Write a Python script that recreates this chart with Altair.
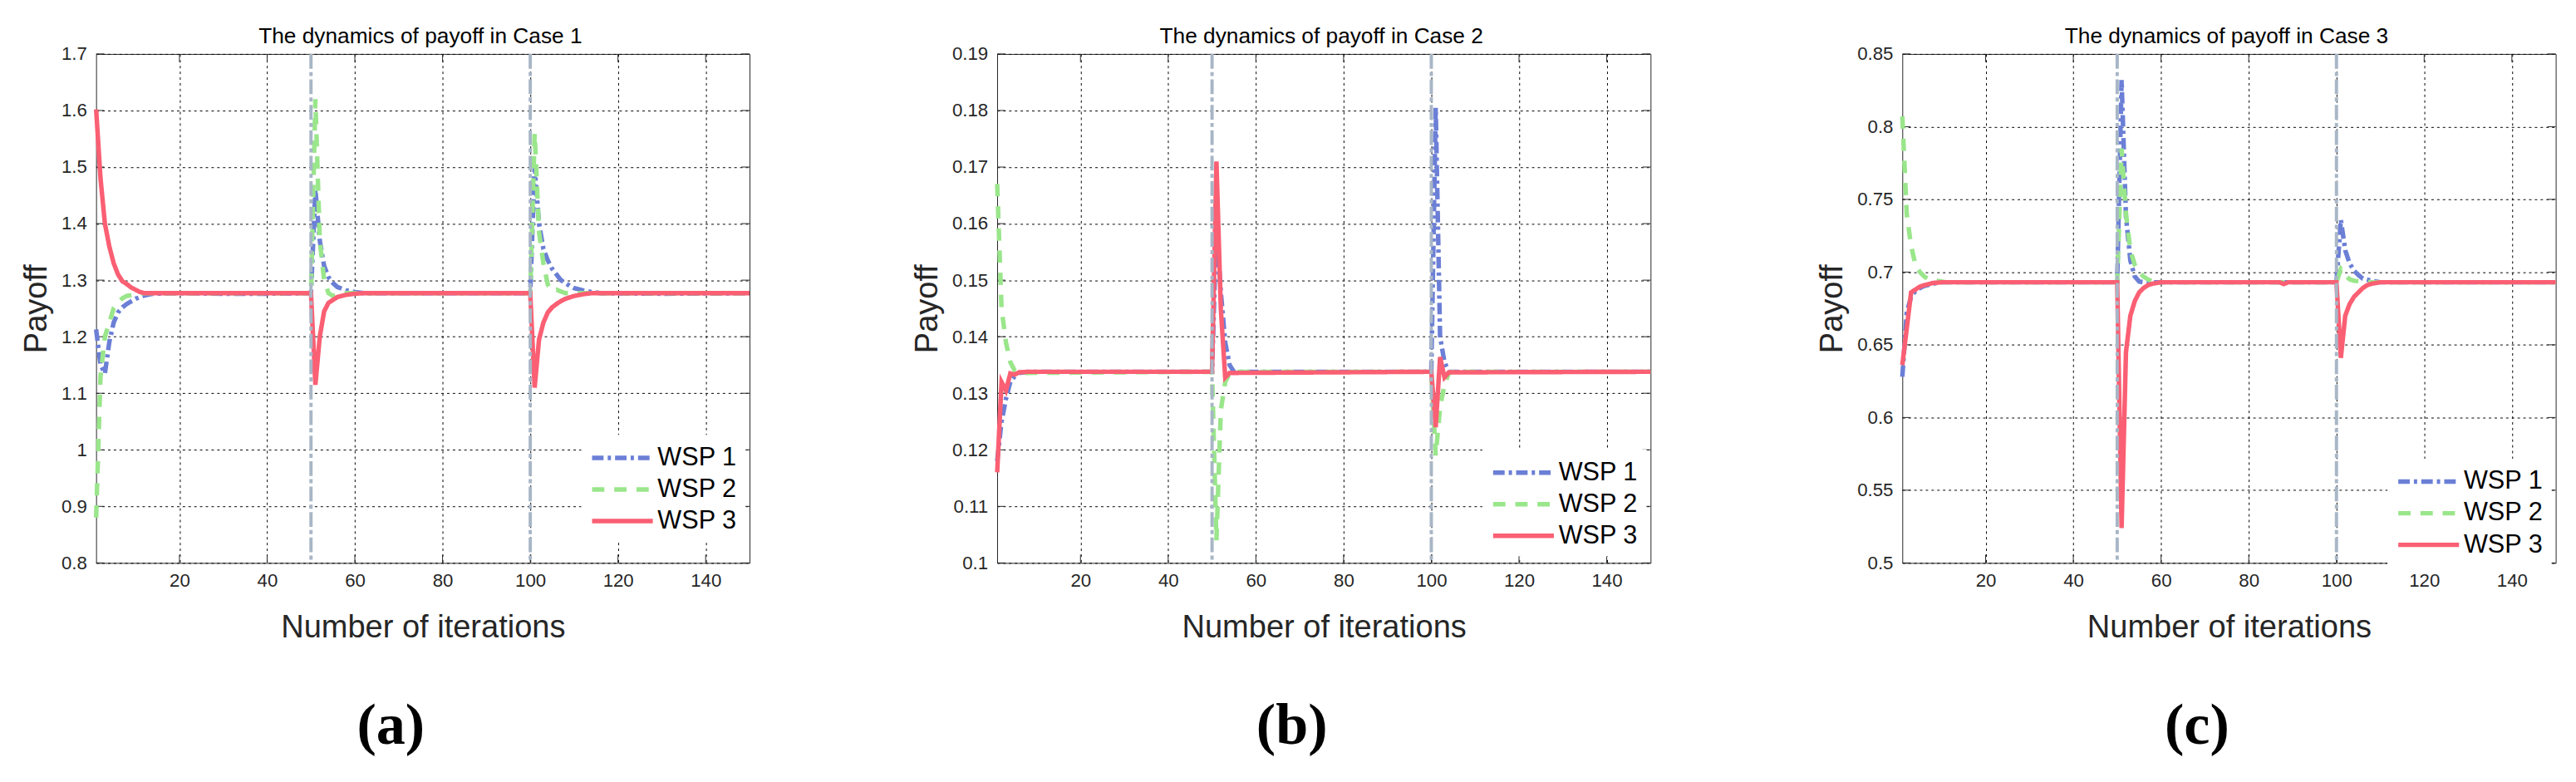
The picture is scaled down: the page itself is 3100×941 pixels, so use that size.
import altair as alt
import pandas as pd

# ---------------- data ----------------
SERIES = ["WSP 1", "WSP 2", "WSP 3"]
COLORS = ["#6b7fd6", "#9ae68b", "#fa5f73"]
DASHES = [[14, 5, 4, 5], [15, 12], [1, 0]]

TITLES = ["The dynamics of payoff in Case 1",
          "The dynamics of payoff in Case 2",
          "The dynamics of payoff in Case 3"]
PANEL_LABELS = ["(a)", "(b)", "(c)"]
X_TICKS = [20, 40, 60, 80, 100, 120, 140]
Y_TICKS_A = [0.8, 0.9, 1.0, 1.1, 1.2, 1.3, 1.4, 1.5, 1.6, 1.7]
Y_TICKS_B = [0.10, 0.11, 0.12, 0.13, 0.14, 0.15, 0.16, 0.17, 0.18, 0.19]
Y_TICKS_C = [0.5, 0.55, 0.6, 0.65, 0.7, 0.75, 0.8, 0.85]
SHOCKS = [50, 100]

# Case 1
a1_x = [1, 2, 3, 4, 5, 6, 7, 8, 10, 12, 14, 20, 30, 40, 50, 51, 52, 53, 54, 55, 56, 58, 60, 62, 80, 90,
        100, 101, 102, 103, 104, 105, 106, 107, 108, 109, 110, 112, 114, 116, 130, 150]
a1_y = [1.213, 1.15, 1.135, 1.19, 1.225, 1.243, 1.252, 1.258, 1.267, 1.273, 1.276, 1.277, 1.276, 1.276,
        1.277, 1.46, 1.37, 1.325, 1.305, 1.295, 1.288, 1.282, 1.279, 1.277, 1.277, 1.277,
        1.277, 1.50, 1.40, 1.355, 1.335, 1.32, 1.31, 1.30, 1.295, 1.29, 1.286, 1.282, 1.279, 1.277, 1.276, 1.277]
a2_x = [1, 2, 3, 4, 5, 6, 7, 8, 10, 12, 50, 51, 52, 53, 54, 55, 56, 58,
        100, 101, 102, 103, 104, 105, 106, 107, 108, 150]
a2_y = [0.88, 1.13, 1.20, 1.225, 1.25, 1.26, 1.268, 1.272, 1.275, 1.277, 1.277, 1.62, 1.37, 1.30, 1.277,
        1.272, 1.274, 1.277, 1.277, 1.56, 1.385, 1.33, 1.292, 1.281, 1.283, 1.28, 1.277, 1.277]
a3_x = [1, 2, 3, 4, 5, 6, 7, 8, 9, 10, 11, 12, 50, 51, 52, 53, 54, 55, 56, 58, 60, 62,
        100, 101, 102, 103, 104, 105, 106, 107, 108, 110, 112, 114, 150]
a3_y = [1.602, 1.48, 1.40, 1.36, 1.33, 1.31, 1.298, 1.293, 1.287, 1.283, 1.279, 1.277, 1.277, 1.115, 1.20,
        1.245, 1.26, 1.265, 1.27, 1.274, 1.276, 1.277, 1.277, 1.11, 1.195, 1.225, 1.243, 1.252, 1.258,
        1.263, 1.267, 1.272, 1.275, 1.277, 1.277]

# Case 2
b1_x = [1, 2, 3, 4, 5, 6, 8, 50, 51, 52, 53, 54, 55, 100, 101, 102, 103, 104, 150]
b1_y = [0.118, 0.125, 0.129, 0.132, 0.133, 0.1336, 0.1338, 0.1338, 0.160, 0.148, 0.139, 0.135, 0.1338,
        0.1338, 0.1805, 0.140, 0.1355, 0.1338, 0.1338]
b2_x = [1, 2, 3, 4, 5, 6, 50, 51, 52, 53, 54, 55, 100, 101, 102, 103, 104, 105, 150]
b2_y = [0.167, 0.145, 0.139, 0.1355, 0.134, 0.1336, 0.1338, 0.104, 0.127, 0.132, 0.1335, 0.1338,
        0.1338, 0.119, 0.1275, 0.1315, 0.1336, 0.1338, 0.1338]
b3_x = [1, 2, 3, 4, 5, 6, 8, 50, 51, 52, 53, 54, 100, 101, 102, 103, 104, 150]
b3_y = [0.116, 0.132, 0.1305, 0.1335, 0.1333, 0.1337, 0.1338, 0.1338, 0.171, 0.145, 0.1328, 0.1336,
        0.1338, 0.124, 0.1364, 0.1328, 0.1337, 0.1338]

# Case 3
c1_x = [1, 2, 3, 4, 5, 6, 8, 10, 50, 51, 52, 53, 54, 55, 56, 100, 101, 102, 103, 104, 105, 106, 108, 110, 150]
c1_y = [0.628, 0.672, 0.683, 0.687, 0.689, 0.6905, 0.692, 0.693, 0.693, 0.832, 0.738, 0.708, 0.697,
        0.6935, 0.693, 0.693, 0.736, 0.715, 0.706, 0.701, 0.698, 0.6955, 0.694, 0.693, 0.693]
c2_x = [1, 2, 3, 4, 5, 6, 7, 9, 11, 50, 51, 52, 53, 54, 55, 56, 57, 58, 60,
        100, 101, 102, 103, 104, 106, 108, 150]
c2_y = [0.807, 0.74, 0.718, 0.705, 0.70, 0.697, 0.695, 0.694, 0.693, 0.693, 0.785, 0.74, 0.715, 0.705,
        0.70, 0.697, 0.695, 0.6935, 0.693, 0.693, 0.702, 0.698, 0.695, 0.694, 0.6935, 0.693, 0.693]
c3_x = [1, 2, 3, 4, 5, 6, 8, 10, 50, 51, 52, 53, 54, 55, 56, 57, 58, 60, 87, 88, 89,
        100, 101, 102, 103, 104, 105, 106, 107, 108, 110, 150]
c3_y = [0.636, 0.661, 0.686, 0.688, 0.690, 0.691, 0.6925, 0.693, 0.693, 0.524, 0.645, 0.67, 0.68, 0.686,
        0.689, 0.691, 0.692, 0.693, 0.693, 0.6918, 0.693, 0.693, 0.641, 0.670, 0.678, 0.683, 0.686,
        0.689, 0.691, 0.692, 0.693, 0.693]

# ---------------- styling ----------------
W, H = 796, 620
AXC = "#262626"
FONT = "Liberation Sans"


def panel(xs_list, ys_list, yticks, title, label, legend_x, legend_y):
    rows = []
    for s, xs, ys in zip(SERIES, xs_list, ys_list):
        for x, y in zip(xs, ys):
            rows.append({"it": x, "val": y, "series": s})
    df = pd.DataFrame(rows)

    xscale = alt.Scale(domain=[1, 150], nice=False, zero=False)
    yscale = alt.Scale(domain=[yticks[0], yticks[-1]], nice=False, zero=False)
    xaxis = alt.Axis(values=X_TICKS, title="Number of iterations", labelPadding=10, titlePadding=28)
    yaxis = alt.Axis(values=yticks, labelExpr="format(datum.value, '.2~f')", title="Payoff",
                     labelPadding=11.5, titlePadding=10)

    leg = alt.Legend(orient="none", legendX=legend_x, legendY=legend_y, title=None,
                     labelFont=FONT, labelFontSize=31, labelColor="black",
                     symbolType="M-1,0H4", symbolSize=876, symbolStrokeWidth=5.5,
                     labelOffset=47, padding=10, rowPadding=5.5, fillColor="white")

    lines = alt.Chart(df).mark_line(strokeWidth=5.5).encode(
        x=alt.X("it:Q", scale=xscale, axis=xaxis),
        y=alt.Y("val:Q", scale=yscale, axis=yaxis),
        color=alt.Color("series:N", scale=alt.Scale(domain=SERIES, range=COLORS), legend=leg),
        strokeDash=alt.StrokeDash("series:N", scale=alt.Scale(domain=SERIES, range=DASHES), legend=leg),
    )

    shocks = alt.Chart(pd.DataFrame({"it": SHOCKS})).mark_rule(
        color="#a8b6c6", strokeWidth=4, strokeDash=[18, 4, 5, 4]
    ).encode(x=alt.X("it:Q", scale=xscale, axis=xaxis))

    ydf = pd.DataFrame({"val": yticks})
    xdf = pd.DataFrame({"it": X_TICKS})
    tick_l = alt.Chart(ydf).mark_rule(color=AXC, strokeWidth=1).encode(
        y=alt.Y("val:Q", scale=yscale, axis=yaxis), x=alt.value(0), x2=alt.value(10))
    tick_r = alt.Chart(ydf).mark_rule(color=AXC, strokeWidth=1).encode(
        y=alt.Y("val:Q", scale=yscale, axis=yaxis), x=alt.value(W - 10), x2=alt.value(W))
    tick_b = alt.Chart(xdf).mark_rule(color=AXC, strokeWidth=1).encode(
        x=alt.X("it:Q", scale=xscale, axis=xaxis), y=alt.value(H - 10), y2=alt.value(H))
    tick_t = alt.Chart(xdf).mark_rule(color=AXC, strokeWidth=1).encode(
        x=alt.X("it:Q", scale=xscale, axis=xaxis), y=alt.value(0), y2=alt.value(10))

    texts = pd.DataFrame({"lab": [label], "ttl": [title]})
    lab = alt.Chart(texts).mark_text(
        font="Liberation Serif", fontSize=71, fontWeight="bold", color="black",
        align="center", baseline="alphabetic"
    ).encode(text="lab:N", x=alt.value(359), y=alt.value(840))
    ttl = alt.Chart(texts).mark_text(
        font=FONT, fontSize=26.6, color="black", align="center", baseline="alphabetic"
    ).encode(text="ttl:N", x=alt.value(395), y=alt.value(-13))

    return alt.layer(tick_l, tick_r, tick_b, tick_t, lines, shocks, lab, ttl).properties(
        width=W, height=H,
    )


pa = panel([a1_x, a2_x, a3_x], [a1_y, a2_y, a3_y], Y_TICKS_A, TITLES[0], PANEL_LABELS[0], 591, 464)
pb = panel([b1_x, b2_x, b3_x], [b1_y, b2_y, b3_y], Y_TICKS_B, TITLES[1], PANEL_LABELS[1], 591, 482)
pc = panel([c1_x, c2_x, c3_x], [c1_y, c2_y, c3_y], Y_TICKS_C, TITLES[2], PANEL_LABELS[2], 591, 493)

RES = dict(x="independent", y="independent", color="independent", strokeDash="independent")

inner = alt.hconcat(pa, pb, spacing=184.7).resolve_scale(**RES).resolve_legend(
    color="independent", strokeDash="independent")
chart = alt.hconcat(inner, pc, spacing=189.4).resolve_scale(**RES).resolve_legend(
    color="independent", strokeDash="independent")

chart = chart.properties(
    padding={"left": 16, "top": 17, "right": 5, "bottom": 5},
    background="white",
).configure_view(
    stroke=AXC, strokeWidth=1
).configure_axis(
    domain=False, ticks=False, grid=True, gridColor="black", gridDash=[3, 4], gridWidth=1,
    gridOpacity=1, labelFont=FONT, labelFontSize=22.5, labelColor=AXC,
    titleFont=FONT, titleFontSize=38.5, titleColor=AXC, titleFontWeight="normal",
)

chart.save("out.html", embed_options={"renderer": "svg", "actions": False})
